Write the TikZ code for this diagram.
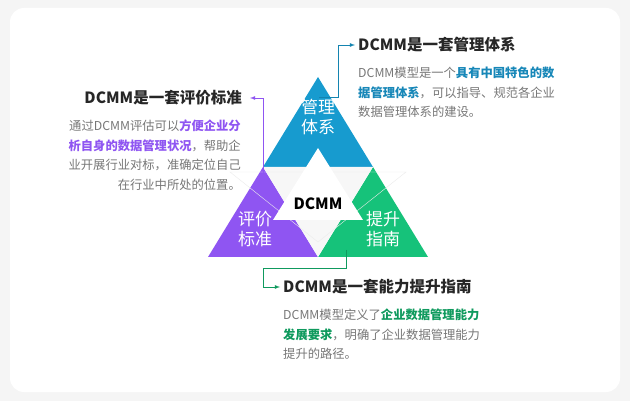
\documentclass[tikz,border=0pt]{standalone}
\usepackage{fontspec}
\setmainfont{Noto Sans CJK SC}
\definecolor{cb}{HTML}{179BCF}
\definecolor{cp}{HTML}{8F55F2}
\definecolor{cg}{HTML}{16C27A}
\definecolor{tb}{HTML}{1787B8}
\definecolor{tg}{HTML}{0F9A5E}
\definecolor{gt}{HTML}{777777}
\begin{document}
\begin{tikzpicture}[x=1pt,y=-1pt,
  ttl/.style={font=\fontsize{15.5}{18}\selectfont\bfseries,text=black!85,inner sep=0pt},
  body/.style={font=\fontsize{12.3}{19.5}\selectfont,text=gt,inner sep=0pt},
  tri/.style={font=\fontsize{17}{20}\selectfont,text=white,align=center,inner sep=0pt},
  conn/.style={line width=0.8pt,-latex}]
\fill[black!4] (0,0) rectangle (630,401);
\fill[white,rounded corners=14pt] (10,8) rectangle (620,392);
% triangles
\fill[cb] (318,77) -- (373,167) -- (263,167) -- cycle;
\fill[cp] (263,167) -- (318,257) -- (208,257) -- cycle;
\fill[cg] (373,167) -- (428,257) -- (318,257) -- cycle;
\fill[black!3] (263,167) -- (373,167) -- (318,257) -- cycle;
\draw[black!8] (230,172) -- (406,172) -- (318,242) -- cycle;
\fill[white] (318,148) -- (363,220) -- (273,220) -- cycle;
\node[tri] (ta) at (318,117) {管理\\体系};
\node[tri] (tl) at (255,229) {评价\\标准};
\node[tri] (tr) at (383,229) {提升\\指南};
\node[font=\fontsize{15.5}{18}\selectfont\bfseries,inner sep=0pt] (c) at (318,204) {DCMM};
% titles
\node[ttl,anchor=west] (t1) at (358,45) {DCMM是一套管理体系};
\node[ttl,anchor=east] (t2) at (242,98) {DCMM是一套评价标准};
\node[ttl,anchor=west] (t3) at (283,287) {DCMM是一套能力提升指南};
\node[body,anchor=north west,align=left] (b1) at (358,67) {DCMM模型是一个\textcolor{tb}{\bfseries 具有中国特色的数}\\\textcolor{tb}{\bfseries 据管理体系}，可以指导、规范各企业\\数据管理体系的建设。};
\node[body,anchor=north east,align=right] (b2) at (241,120) {通过DCMM评估可以\textcolor{cp}{\bfseries 方便企业分}\\\textcolor{cp}{\bfseries 析自身的数据管理状况}，帮助企\\业开展行业对标，准确定位自己\\在行业中所处的位置。};
\node[body,anchor=north west,align=left] (b3) at (283,309) {DCMM模型定义了\textcolor{tg}{\bfseries 企业数据管理能力}\\\textcolor{tg}{\bfseries 发展要求}，明确了企业数据管理能力\\提升的路径。};
% connectors
\coordinate (s1) at (319,97);
\coordinate (s2) at (263,190);
\coordinate (s3) at (346,250);
\draw[conn,cb!85!black] (s1) -- (338,97) -- (338,45) -- ([xshift=-3pt]t1.west);
\draw[conn,cp] (s2) -- (263,98) -- ([xshift=8pt]t2.east);
\draw[conn,tg] (s3) -- (346,268) -- (263,268) -- (263,287) -- ([xshift=-3pt]t3.west);
\end{tikzpicture}
\end{document}
